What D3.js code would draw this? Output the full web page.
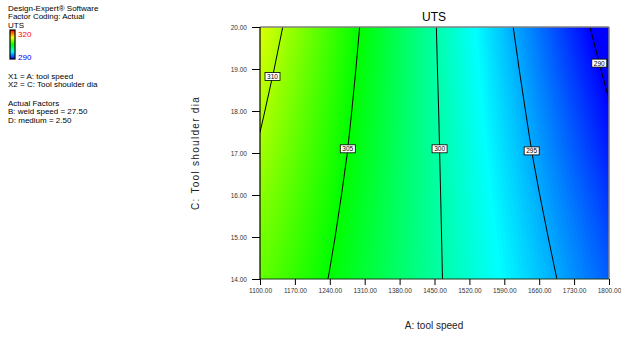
<!DOCTYPE html>
<html>
<head>
<meta charset="utf-8">
<script src="https://cdn.jsdelivr.net/npm/d3@7"></script>
<style>
  body { margin: 0; background: #fff; }
  text { font-family: "Liberation Sans", Arial, sans-serif; }
</style>
</head>
<body>
<script>
// A: tool speed (columns) and C: tool shoulder dia (rows)
const speeds = [1100, 1170, 1240, 1310, 1380, 1450, 1520, 1590, 1660, 1730, 1800];
const dias = [14, 15, 16, 17, 18, 19, 20];

// UTS, one row per dia (14 -> 20)
const uts14 = [307.97, 306.45, 304.92, 303.40, 301.87, 300.35, 298.82, 297.30, 295.77, 294.25, 292.72];
const uts15 = [308.53, 306.89, 305.25, 303.61, 301.97, 300.33, 298.70, 297.06, 295.42, 293.78, 292.14];
const uts16 = [309.11, 307.35, 305.59, 303.83, 302.07, 300.31, 298.55, 296.79, 295.03, 293.27, 291.51];
const uts17 = [309.73, 307.84, 305.95, 304.06, 302.17, 300.28, 298.39, 296.50, 294.61, 292.72, 290.83];
const uts18 = [310.28, 308.27, 306.26, 304.26, 302.25, 300.24, 298.23, 296.22, 294.21, 292.20, 290.19];
const uts19 = [310.87, 308.73, 306.60, 304.46, 302.32, 300.18, 298.05, 295.91, 293.77, 291.63, 289.50];
const uts20 = [311.48, 309.21, 306.94, 304.67, 302.39, 300.12, 297.85, 295.58, 293.31, 291.03, 288.76];

// contour levels and the dia where each label sits
const levels = [290, 295, 300, 305, 310];
const labelDia = [19.14, 17.05, 17.1, 17.1, 18.82];

const yTicks = [14, 15, 16, 17, 18, 19, 20];

const legendLines = [
  ['Design-Expert\u00ae Software', 10.5],
  ['Factor Coding: Actual', 19],
  ['UTS', 27.5],
  ['X1 = A: tool speed', 78.5],
  ['X2 = C: Tool shoulder dia', 86.5],
  ['Actual Factors', 106],
  ['B: weld speed = 27.50', 114],
  ['D: medium = 2.50', 122.5]
];

const W = 621, H = 338;
const plot = { l: 260, r: 609, t: 27, b: 279 };

const svg = d3.select('body').append('svg')
  .attr('width', W).attr('height', H);

const x = d3.scaleLinear().domain([1100, 1800]).range([plot.l, plot.r]);
const y = d3.scaleLinear().domain([14, 20]).range([plot.b, plot.t]);

// d3.contours puts value i at grid coord i + 0.5
const gx = d3.scaleLinear().domain([0.5, speeds.length - 0.5]).range([speeds[0], speeds[speeds.length - 1]]);
const gy = d3.scaleLinear().domain([0.5, dias.length - 0.5]).range([dias[0], dias[dias.length - 1]]);

const rows = [uts14, uts15, uts16, uts17, uts18, uts19, uts20];
const values = rows.flat();

const color = d3.scaleLinear()
  .domain([290, 297.5, 305, 312.5, 320])
  .range(['#0000ff', '#00ffff', '#00ff00', '#ffff00', '#ff0000'])
  .clamp(true);

const proj = d3.geoTransform({
  point: function(px, py) { this.stream.point(x(gx(px)), y(gy(py))); }
});
const path = d3.geoPath(proj);

svg.append('clipPath').attr('id', 'clip')
  .append('rect')
  .attr('x', plot.l).attr('y', plot.t)
  .attr('width', plot.r - plot.l).attr('height', plot.b - plot.t);

// colour fill, thin bands
const step = 0.2;
const bandT = d3.range(285, 315, step);
const bands = d3.contours().size([speeds.length, dias.length]).thresholds(bandT)(values);

svg.append('g').attr('clip-path', 'url(#clip)')
  .selectAll('path')
  .data(bands)
  .join('path')
  .attr('d', path)
  .attr('fill', d => color(d.value + step / 2))
  .attr('stroke', d => color(d.value + step / 2))
  .attr('stroke-width', 0.4);

// contour lines
const lines = d3.contours().size([speeds.length, dias.length]).thresholds(levels)(values);

svg.append('g').attr('clip-path', 'url(#clip)')
  .selectAll('path')
  .data(lines)
  .join('path')
  .attr('d', path)
  .attr('fill', 'none')
  .attr('stroke', '#000')
  .attr('stroke-width', 1);

// find where a level line crosses a given dia
const crossAt = (c, dia) => {
  const ty = gy.invert(dia);
  let best = -Infinity;
  c.coordinates.forEach(poly => poly.forEach(ring => {
    for (let k = 1; k < ring.length; k++) {
      const [x0, y0] = ring[k - 1], [x1, y1] = ring[k];
      if (y0 === y1) continue;
      if ((y0 - ty) * (y1 - ty) > 0) continue;
      const xx = x0 + (ty - y0) / (y1 - y0) * (x1 - x0);
      if (xx > 0.5 && xx < speeds.length - 0.5 && xx > best) best = xx;
    }
  }));
  return best;
};

// plot border
svg.append('line').attr('x1', plot.l).attr('x2', plot.r).attr('y1', plot.t).attr('y2', plot.t)
  .attr('stroke', '#808080').attr('stroke-width', 1.5);
svg.append('line').attr('x1', plot.r).attr('x2', plot.r).attr('y1', plot.t).attr('y2', plot.b)
  .attr('stroke', '#808080').attr('stroke-width', 1.5);
svg.append('line').attr('x1', plot.l).attr('x2', plot.r).attr('y1', plot.b).attr('y2', plot.b)
  .attr('stroke', '#1a3a1a').attr('stroke-width', 1.2);
svg.append('line').attr('x1', plot.l).attr('x2', plot.l).attr('y1', plot.t).attr('y2', plot.b)
  .attr('stroke', '#000').attr('stroke-width', 1.2);

// contour labels
const lbl = svg.append('g');
lines.forEach((c, i) => {
  const xx = crossAt(c, labelDia[i]);
  if (!isFinite(xx)) return;
  const px = x(gx(xx)), py = y(labelDia[i]);
  const g = lbl.append('g').attr('transform', `translate(${px},${py})`);
  g.append('rect').attr('x', -7.5).attr('y', -4).attr('width', 15).attr('height', 8)
    .attr('fill', '#fff').attr('stroke', '#000').attr('stroke-width', 0.8);
  g.append('text').attr('text-anchor', 'middle').attr('y', 2.4)
    .attr('font-size', '6.5px').attr('fill', '#000').text(levels[i]);
});

// axes
const xAxis = svg.append('g').attr('transform', `translate(0,${plot.b})`)
  .call(d3.axisBottom(x).tickValues(speeds).tickFormat(d3.format('.2f')).tickSize(6).tickPadding(3));
const yAxis = svg.append('g').attr('transform', `translate(${plot.l},0)`)
  .call(d3.axisLeft(y).tickValues(yTicks).tickFormat(d3.format('.2f')).tickSize(8).tickPadding(5));
[xAxis, yAxis].forEach(a => {
  a.select('.domain').remove();
  a.selectAll('line').attr('stroke', '#000');
  a.selectAll('text').attr('font-size', '6.5px').attr('fill', '#333')
    .attr('font-family', '"Liberation Sans", Arial, sans-serif');
});

// titles
svg.append('text').attr('x', 434).attr('y', 21).attr('text-anchor', 'middle')
  .attr('font-size', '12px').attr('fill', '#000').text('UTS');
svg.append('text').attr('x', 434).attr('y', 329).attr('text-anchor', 'middle')
  .attr('font-size', '10px').attr('fill', '#222').text('A: tool speed');
svg.append('text').attr('transform', 'translate(199,153) rotate(-90)')
  .attr('text-anchor', 'middle').attr('font-size', '10px').attr('fill', '#222')
  .attr('letter-spacing', '1.3px').text('C: Tool shoulder dia');

// left info block
svg.append('g').selectAll('text')
  .data(legendLines)
  .join('text')
  .attr('x', 8).attr('y', d => d[1])
  .attr('font-size', '8px').attr('fill', '#000')
  .text(d => d[0]);

const defs = svg.append('defs');
const grad = defs.append('linearGradient').attr('id', 'cbar')
  .attr('x1', 0).attr('x2', 0).attr('y1', 0).attr('y2', 1);
[320, 312.5, 305, 297.5, 290].forEach((v, i) => {
  grad.append('stop').attr('offset', i / 4).attr('stop-color', color(v));
});
svg.append('rect').attr('x', 10).attr('y', 30).attr('width', 5).attr('height', 29)
  .attr('fill', 'url(#cbar)').attr('stroke', '#000').attr('stroke-width', 1.2);
svg.append('text').attr('x', 18).attr('y', 37).attr('font-size', '8px').attr('fill', '#ff0000').text('320');
svg.append('text').attr('x', 18).attr('y', 60).attr('font-size', '8px').attr('fill', '#0000ff').text('290');
</script>
</body>
</html>
